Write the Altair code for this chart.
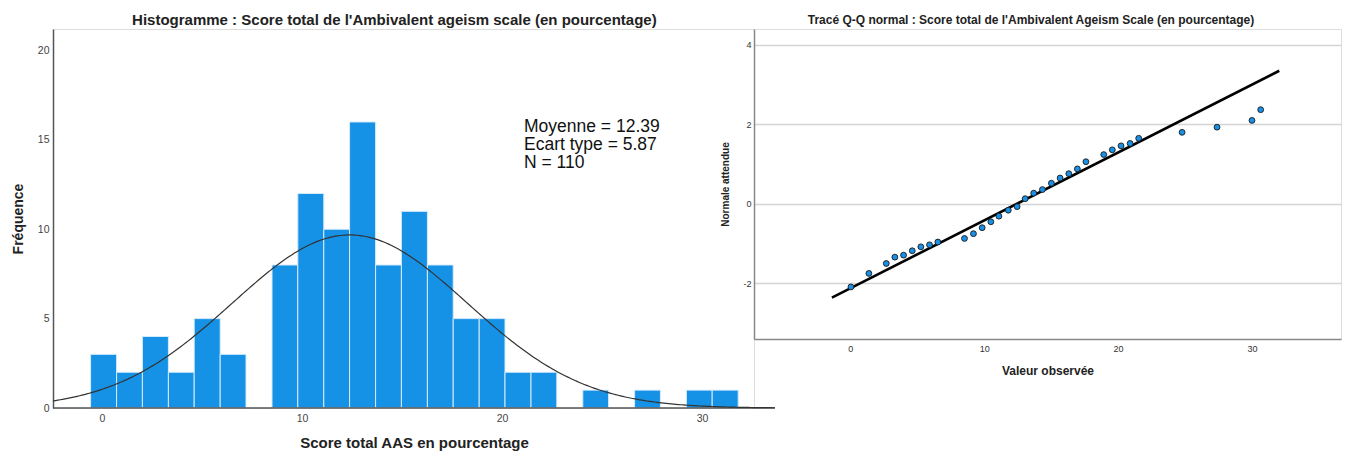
import altair as alt
import pandas as pd
import numpy as np

# ---------------- Histogram data ----------------
bin_lo = [-0.57, 0.73, 2.02, 3.32, 4.61, 5.91, 7.20, 8.50, 9.79, 11.09, 12.38, 13.68, 14.97,
          16.27, 17.56, 18.86, 20.15, 21.45, 22.74, 24.04, 25.33, 26.63, 27.92, 29.22, 30.51]
bin_hi = bin_lo[1:] + [31.81]
counts = [3, 2, 4, 2, 5, 3, 0, 8, 12, 10, 16, 8, 11, 8, 5, 5, 2, 2, 0, 1, 0, 1, 0, 1, 1]

mean_val = 12.39
sd_val = 5.87
n_obs = 110
bin_width = 1.295
stats_lines = ["Moyenne = 12.39", "Ecart type = 5.87", "N = 110"]

hist_x_ticks = [0, 10, 20, 30]
hist_y_ticks = [0, 5, 10, 15, 20]
hist_x_span = [-2.45, 33.65]   # extent of the drawn x axis line and normal curve

# ---------------- Q-Q data ----------------
qq_x = [0.05, 1.39, 2.69, 3.33, 3.98, 4.63, 5.27, 5.92, 6.54, 8.53, 9.20, 9.85, 10.50, 11.10,
        11.80, 12.46, 13.06, 13.70, 14.35, 15.02, 15.67, 16.32, 16.96, 17.60, 18.93, 19.57,
        20.22, 20.90, 21.54, 24.78, 27.39, 30.00, 30.65]
qq_y = [-2.09, -1.75, -1.50, -1.34, -1.29, -1.18, -1.08, -1.03, -0.96, -0.87, -0.75, -0.60,
        -0.45, -0.31, -0.16, -0.07, 0.13, 0.27, 0.36, 0.52, 0.65, 0.76, 0.88, 1.06, 1.24,
        1.36, 1.46, 1.52, 1.65, 1.80, 1.93, 2.10, 2.37]
qq_line_x = [-1.37, 32.04]
qq_line_y = [-2.36, 3.35]
qq_x_ticks = [0, 10, 20, 30]
qq_y_ticks = [-2, 0, 2, 4]

FONT = "Liberation Sans"
PLAIN_LABEL = "'' + datum.value"

# ---------------- Histogram ----------------
df_hist = pd.DataFrame({"lo": bin_lo, "hi": bin_hi, "count": counts})
df_hist = df_hist[df_hist["count"] > 0]

curve_x = np.linspace(hist_x_span[0], hist_x_span[1], 300)
curve_y = n_obs * bin_width * np.exp(-0.5 * ((curve_x - mean_val) / sd_val) ** 2) / (sd_val * np.sqrt(2 * np.pi))
df_curve = pd.DataFrame({"lo": curve_x, "count": curve_y})

HIST_W = 701
HIST_H = 379
hx_scale = alt.Scale(domain=[-2.45, -2.45 + HIST_W / 20.0], nice=False, zero=False)
hy_scale = alt.Scale(domain=[0, 21.2], nice=False)
hx_axis = alt.Axis(values=hist_x_ticks, title="Score total AAS en pourcentage", grid=False, ticks=False,
                   labelFontSize=10.5, labelColor="#444", labelPadding=5, domain=False,
                   titleFontSize=15, titleFontWeight="bold", titleColor="#222",
                   titlePadding=12, labelExpr=PLAIN_LABEL, titleX=361)
hy_axis = alt.Axis(values=hist_y_ticks, title="Fréquence", grid=False, ticks=False,
                   labelFontSize=10.5, labelColor="#444", labelPadding=4, domainColor="#555",
                   domainWidth=1.5, titleFontSize=14, titleFontWeight="bold", titleColor="#222",
                   titlePadding=12, labelExpr=PLAIN_LABEL)

bars = alt.Chart(df_hist).mark_rect(color="#1591e6", stroke="#d6ebfb", strokeWidth=1).encode(
    x=alt.X("lo:Q", scale=hx_scale, axis=hx_axis),
    x2="hi:Q",
    y=alt.Y("count:Q", scale=hy_scale, axis=hy_axis),
    y2=alt.datum(0),
)
axis_line = alt.Chart(pd.DataFrame({"lo": [hist_x_span[0]], "hi": [hist_x_span[1]]})).mark_rule(
    color="#555555", strokeWidth=1.5, clip=False
).encode(
    x=alt.X("lo:Q", scale=hx_scale, axis=hx_axis),
    x2="hi:Q",
    y=alt.datum(0),
)
curve = alt.Chart(df_curve).mark_line(color="#333333", strokeWidth=1.2, clip=False).encode(
    x=alt.X("lo:Q", scale=hx_scale, axis=hx_axis),
    y=alt.Y("count:Q", scale=hy_scale, axis=hy_axis),
)
annot = alt.Chart(pd.DataFrame({"lo": [21.1], "count": [15.45]})).mark_text(
    text=stats_lines, align="left", baseline="alphabetic", fontSize=17.5, lineHeight=18,
    color="#111111", font=FONT
).encode(
    x=alt.X("lo:Q", scale=hx_scale, axis=hx_axis),
    y=alt.Y("count:Q", scale=hy_scale, axis=hy_axis),
)

hist = alt.layer(bars, axis_line, curve, annot).properties(
    width=HIST_W, height=HIST_H,
    title=alt.TitleParams(
        text="Histogramme : Score total de l'Ambivalent ageism scale (en pourcentage)",
        fontSize=15, fontWeight="bold", color="#222", offset=1, frame="bounds", anchor="middle"),
)

# ---------------- Q-Q plot ----------------
df_pts = pd.DataFrame({"x": qq_x, "y": qq_y})
df_line = pd.DataFrame({"x": qq_line_x, "y": qq_line_y})

QQ_W = 587
qx_scale = alt.Scale(domain=[-7.19, -7.19 + QQ_W / 13.39], nice=False, zero=False)
qy_scale = alt.Scale(domain=[-3.4, 4.4], nice=False, zero=False)
qx_axis = alt.Axis(values=qq_x_ticks, title="Valeur observée", grid=False, ticks=False,
                   labelFontSize=9, labelColor="#333", labelPadding=5, domainColor="#888",
                   domainWidth=1.5, titleFontSize=12, titleFontWeight="bold", titleColor="#222",
                   titlePadding=12, labelExpr=PLAIN_LABEL)
qy_axis = alt.Axis(values=qq_y_ticks, title="Normale attendue", grid=True, gridColor="#d4d4d4",
                   gridWidth=1.6, ticks=False, labelFontSize=9, labelColor="#333", labelPadding=3,
                   domainColor="#888", domainWidth=1.5, titleFontSize=10, titleFontWeight="bold",
                   titleColor="#222", titlePadding=12, labelExpr=PLAIN_LABEL)

line = alt.Chart(df_line).mark_line(color="#000000", strokeWidth=2.6).encode(
    x=alt.X("x:Q", scale=qx_scale, axis=qx_axis),
    y=alt.Y("y:Q", scale=qy_scale, axis=qy_axis),
)
pts = alt.Chart(df_pts).mark_circle(size=34, color="#1a8fe6", stroke="#1a1a1a", strokeWidth=0.9,
                                     opacity=1).encode(
    x=alt.X("x:Q", scale=qx_scale, axis=qx_axis),
    y=alt.Y("y:Q", scale=qy_scale, axis=qy_axis),
)

qq = alt.layer(line, pts).properties(
    width=QQ_W, height=310,
    title=alt.TitleParams(
        text="Tracé Q-Q normal : Score total de l'Ambivalent Ageism Scale (en pourcentage)",
        fontSize=12, fontWeight="bold", color="#222", offset=2, frame="bounds", anchor="middle"),
)

chart = alt.hconcat(hist, qq, spacing=0, bounds="flush").properties(
    padding={"left": 2, "top": 4, "right": 0, "bottom": 0}
).configure_view(stroke=None).configure(font=FONT)

chart.save("out.html", embed_options={"renderer": "svg", "actions": False})
